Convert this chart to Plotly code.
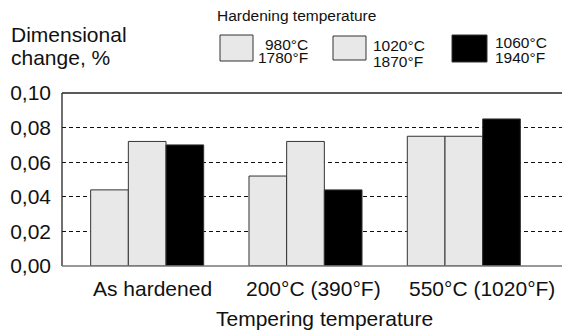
import plotly.graph_objects as go

categories = ["As hardened", "200°C (390°F)", "550°C (1020°F)"]
series_names = ["980°C 1780°F", "1020°C 1870°F", "1060°C 1940°F"]
values_980 = [0.044, 0.052, 0.075]
values_1020 = [0.072, 0.072, 0.075]
values_1060 = [0.070, 0.044, 0.085]
y_ticks = [0.00, 0.02, 0.04, 0.06, 0.08, 0.10]
y_ticklabels = ["0,00", "0,02", "0,04", "0,06", "0,08", "0,10"]
legend_c = ["980°C", "1020°C", "1060°C"]
legend_f = ["1780°F", "1870°F", "1940°F"]

FONT = "Liberation Sans, Arial, sans-serif"
W, H = 562, 332
L, R, T, B = 62, 0, 93, 66
PW, PH = W - L - R, H - T - B

def px(x):
    return (x - L) / PW

def py(y):
    return (H - B - y) / PH

fills = ["#e8e8e8", "#e8e8e8", "#000000"]
series = [values_980, values_1020, values_1060]

fig = go.Figure()
for name, vals, col in zip(series_names, series, fills):
    fig.add_trace(go.Bar(
        x=categories, y=vals, name=name,
        marker=dict(color=col, line=dict(color="#333333", width=1)),
        showlegend=False,
    ))

shapes = []
annotations = []

# frame lines
shapes.append(dict(type="line", xref="paper", yref="paper", x0=0, x1=1, y0=1, y1=1,
                   line=dict(color="#222222", width=1.3), layer="above"))
shapes.append(dict(type="line", xref="paper", yref="paper", x0=0, x1=0, y0=0, y1=1,
                   line=dict(color="#222222", width=1.3), layer="above"))
shapes.append(dict(type="line", xref="paper", yref="paper", x0=0, x1=1, y0=0, y1=0,
                   line=dict(color="#777777", width=1.5), layer="above"))

# legend
boxes = [(220, 253, 35, 61), (333, 366, 36, 60), (452, 487, 35, 62)]
for (x0, x1, y0, y1), col in zip(boxes, fills):
    shapes.append(dict(type="rect", xref="paper", yref="paper",
                       x0=px(x0), x1=px(x1), y0=py(y1), y1=py(y0),
                       fillcolor=col, line=dict(color="#333333", width=1)))

legend_text_pos = [
    (310, "right", 44, 58),
    (371, "left", 46, 61),
    (493, "left", 42, 57),
]
for (tx, anc, yc, yf), c, f in zip(legend_text_pos, legend_c, legend_f):
    annotations.append(dict(text=c, xref="paper", yref="paper", x=px(tx), y=py(yc),
                            xanchor=anc, yanchor="middle", showarrow=False,
                            font=dict(size=15.5, color="#111111", family=FONT)))
    annotations.append(dict(text=f, xref="paper", yref="paper", x=px(tx), y=py(yf),
                            xanchor=anc, yanchor="middle", showarrow=False,
                            font=dict(size=15.5, color="#111111", family=FONT)))

annotations.append(dict(text="Hardening temperature", xref="paper", yref="paper",
                        x=px(215), y=py(15.5), xanchor="left", yanchor="middle", showarrow=False,
                        font=dict(size=15.5, color="#111111", family=FONT)))
annotations.append(dict(text="Dimensional", xref="paper", yref="paper",
                        x=px(9), y=py(34.5), xanchor="left", yanchor="middle", showarrow=False,
                        font=dict(size=21, color="#111111", family=FONT)))
annotations.append(dict(text="change, %", xref="paper", yref="paper",
                        x=px(9), y=py(58), xanchor="left", yanchor="middle", showarrow=False,
                        font=dict(size=21, color="#111111", family=FONT)))
annotations.append(dict(text="Tempering temperature", xref="paper", yref="paper",
                        x=px(324), y=py(318), xanchor="center", yanchor="middle", showarrow=False,
                        font=dict(size=21, color="#111111", family=FONT)))

# category labels placed under each group
label_xshift = [5, 8, 18]
for cat, xs in zip(categories, label_xshift):
    annotations.append(dict(text=cat, xref="x", yref="paper", x=cat, y=py(288),
                            xshift=xs, xanchor="center", yanchor="middle", showarrow=False,
                            font=dict(size=21, color="#111111", family=FONT)))

fig.update_layout(
    width=W, height=H,
    margin=dict(l=L, r=R, t=T, b=B),
    paper_bgcolor="white", plot_bgcolor="white",
    barmode="group", bargap=0.286, bargroupgap=0,
    font=dict(family=FONT, color="#111111"),
    shapes=shapes, annotations=annotations,
    xaxis=dict(type="category", range=[-0.538, 2.62], showgrid=False, showline=False,
               zeroline=False, ticks="", showticklabels=False),
    yaxis=dict(range=[0, 0.10], tickvals=y_ticks, ticktext=y_ticklabels, showgrid=True,
               gridcolor="#111111", griddash="4px,3px", gridwidth=1, zeroline=False,
               showline=False, ticks="", ticklabelstandoff=10,
               tickfont=dict(size=21, family=FONT, color="#111111")),
)

fig.write_html("out.html")
